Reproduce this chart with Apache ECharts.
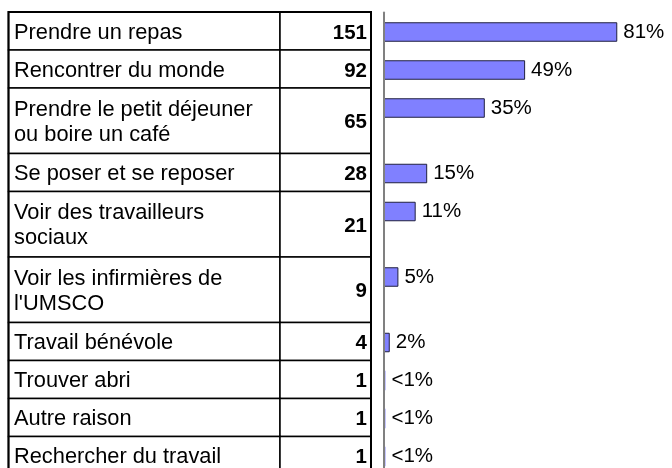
<!DOCTYPE html>
<html>
<head>
<meta charset="utf-8">
<script src="https://cdn.jsdelivr.net/npm/echarts@6/dist/echarts.min.js"></script>
<style>
  html, body { margin: 0; padding: 0; background: #fff; }
  #chart { width: 672px; height: 468px; }
</style>
</head>
<body>
<div id="chart"></div>
<script>
// Reasons for visiting: label, number of respondents, share of respondents (%)
const categories = [
  'Prendre un repas',
  'Rencontrer du monde',
  'Prendre le petit déjeuner\nou boire un café',
  'Se poser et se reposer',
  'Voir des travailleurs\nsociaux',
  'Voir les infirmières de\nl\'UMSCO',
  'Travail bénévole',
  'Trouver abri',
  'Autre raison',
  'Rechercher du travail'
];
const counts = [151, 92, 65, 28, 21, 9, 4, 1, 1, 1];
const percents = [81, 49, 35, 15, 11, 5, 2, 0.5, 0.5, 0.5];

// Table geometry
const FONT = 'Liberation Sans, Arial, sans-serif';
const tableLeft = 8.5, colSplit = 280, tableRight = 371;
const tableTop = 12;
const singleRow = 38, doubleRow = 65.5;
const barAreaLeft = 384, barAreaWidth = 292; // 0..100 %
const barBand = 20;                           // bar band height, placed 10px below each row top

const rowHeights = categories.map(c => c.indexOf('\n') >= 0 ? doubleRow : singleRow);
const rowTops = [];
rowHeights.reduce((y, h) => { rowTops.push(y); return y + h; }, tableTop);
const tableBottom = rowTops[rowTops.length - 1] + rowHeights[rowHeights.length - 1];

const pctLabel = v => (v < 1 ? '<1%' : v + '%');

// One small grid per table row, so each bar sits at the top of its row
const grids = [], xAxes = [], yAxes = [], series = [];
categories.forEach((cat, i) => {
  grids.push({ left: barAreaLeft, width: barAreaWidth, top: rowTops[i] + 10, height: barBand });
  xAxes.push({ type: 'value', gridIndex: i, min: 0, max: 100, show: false });
  yAxes.push({ type: 'category', gridIndex: i, data: [cat], show: false });
  const v = percents[i];
  series.push({
    type: 'bar',
    xAxisIndex: i,
    yAxisIndex: i,
    data: [{
      value: v,
      // sub-1% bars are thinner than their outline; draw them fill-only
      itemStyle: v < 1 ? { borderWidth: 0 } : undefined
    }],
    barWidth: 19.5,
    silent: true,
    itemStyle: { color: '#8080ff', borderColor: '#202040', borderWidth: 1 },
    label: {
      show: true,
      position: 'right',
      distance: 6,
      formatter: p => pctLabel(p.value),
      fontFamily: FONT,
      fontSize: 20.5,
      color: '#000'
    }
  });
});

// Full-height grid carrying the shared vertical baseline
const gi = categories.length;
grids.push({ left: barAreaLeft, width: barAreaWidth, top: tableTop + 0.5, bottom: 0 });
xAxes.push({ type: 'value', gridIndex: gi, min: 0, max: 100, show: false });
yAxes.push({
  type: 'category', gridIndex: gi, data: categories, z: 5,
  axisLine: { show: true, lineStyle: { color: '#808080', width: 2 } },
  axisTick: { show: false }, axisLabel: { show: false }, splitLine: { show: false }
});

// Table of labels and counts
const graphics = [];
categories.forEach((cat, i) => {
  const y = rowTops[i], h = rowHeights[i];
  graphics.push({
    type: 'rect', silent: true,
    shape: { x: tableLeft, y: y, width: colSplit - tableLeft, height: h },
    style: { fill: '#fff', stroke: '#000', lineWidth: 1.5 }
  });
  graphics.push({
    type: 'rect', silent: true,
    shape: { x: colSplit, y: y, width: tableRight - colSplit, height: h },
    style: { fill: '#fff', stroke: '#000', lineWidth: 1.5 }
  });
  graphics.push({
    type: 'text', silent: true, x: 14, y: y + h / 2 + 1.5,
    style: {
      text: cat, fill: '#000', fontFamily: FONT, fontSize: 21.8,
      align: 'left', verticalAlign: 'middle', lineHeight: 25
    }
  });
  graphics.push({
    type: 'text', silent: true, x: tableRight - 4, y: y + h / 2 + 2,
    style: {
      text: String(counts[i]), fill: '#000', fontFamily: FONT, fontSize: 20.5,
      fontWeight: 'bold', align: 'right', verticalAlign: 'middle'
    }
  });
});
// Heavier outer frame
graphics.push({
  type: 'rect', silent: true,
  shape: { x: tableLeft, y: tableTop, width: tableRight - tableLeft, height: tableBottom - tableTop },
  style: { fill: 'none', stroke: '#000', lineWidth: 2 }
});

const chart = echarts.init(document.getElementById('chart'), null, { renderer: 'canvas' });
chart.setOption({
  animation: false,
  backgroundColor: '#fff',
  grid: grids,
  xAxis: xAxes,
  yAxis: yAxes,
  series: series,
  graphic: graphics
});
</script>
</body>
</html>
